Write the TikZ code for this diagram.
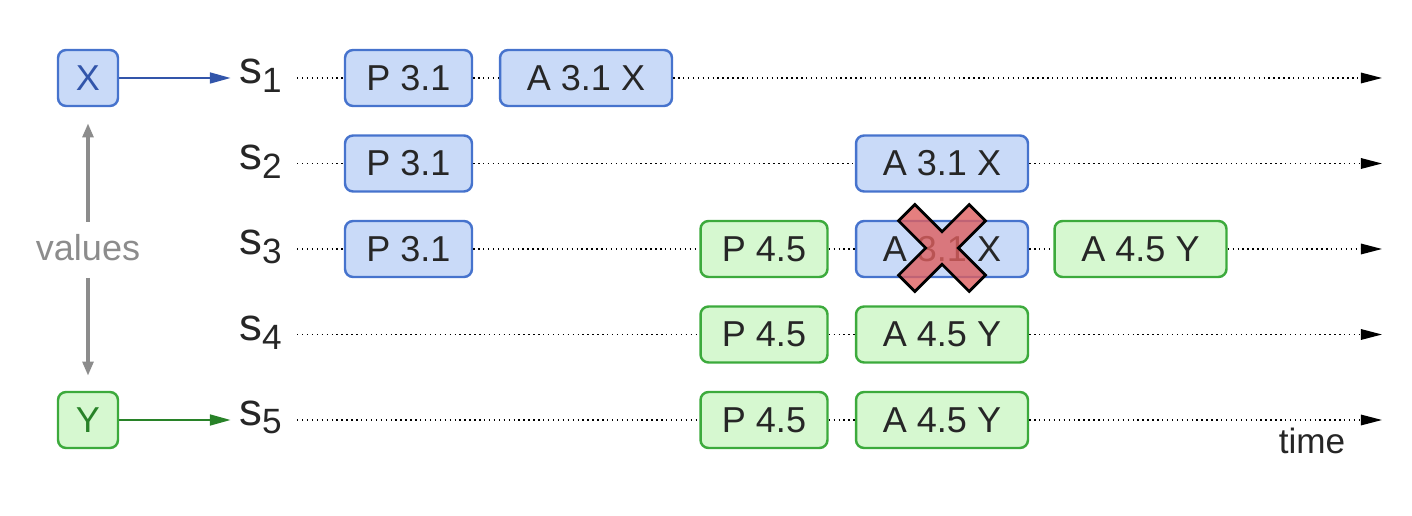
\documentclass[tikz,border=0pt]{standalone}
\usepackage{fontspec}
\setmainfont{Liberation Sans}
\usetikzlibrary{arrows.meta}
\definecolor{bfill}{RGB}{201,218,248}
\definecolor{bdraw}{RGB}{70,115,205}
\definecolor{gfill}{RGB}{214,248,208}
\definecolor{gdraw}{RGB}{60,170,60}
\definecolor{crossred}{RGB}{222,95,95}
\definecolor{valgray}{RGB}{140,140,140}
\definecolor{xarrow}{RGB}{50,85,170}
\definecolor{yarrow}{RGB}{40,130,40}
\begin{document}
\begin{tikzpicture}[x=0.02cm,y=-0.02cm,
  box/.style={rounded corners=0.16cm, line width=1.4pt, minimum height=1.12cm, inner sep=0pt,
    font=\fontsize{20.5}{24}\selectfont, text=black!85},
  bluebox/.style={box, draw=bdraw, fill=bfill},
  greenbox/.style={box, draw=gdraw, fill=gfill},
  pbox/.style={minimum width=2.54cm},
  abox/.style={minimum width=3.44cm},
  vbox/.style={minimum width=1.2cm},
  slabel/.style={anchor=base west, inner sep=0pt, font=\fontsize{26}{30}\selectfont, text=black!85},
  tl/.style={dotted, line width=0.8pt, black},
  tla/.style={tl, -{Triangle[length=12pt,width=6pt]}},
  garrow/.style={line width=2.1pt, valgray, -{Triangle[length=8pt,width=6pt]}},
  varrow/.style={line width=1.7pt, -{Triangle[length=12pt,width=6pt]}, shorten >=0.16cm},
]
\useasboundingbox (0,0) rectangle (1412,516);

\newcommand{\slab}[1]{s\raisebox{-5pt}{\fontsize{20}{22}\selectfont #1}}

% value boxes
\node[bluebox, vbox, text=xarrow] (X) at (88,78) {X};
\node[greenbox, vbox, text=yarrow] (Y) at (88,420) {Y};
\node[inner sep=0pt, anchor=base, text=valgray, font=\fontsize{20.5}{24}\selectfont] (values) at (88,261) {values};
\coordinate (va) at (88,222);
\coordinate (vb) at (88,278);
\draw[garrow, shorten >=0.32cm] (va) -- (X.south);
\draw[garrow, shorten >=0.3cm] (vb) -- (Y.north);

% labels
\node[slabel] (s1) at (239,84) {\slab{1}};
\node[slabel] (s2) at (239,169.5) {\slab{2}};
\node[slabel] (s3) at (239,255) {\slab{3}};
\node[slabel] (s4) at (239,340.5) {\slab{4}};
\node[slabel] (s5) at (239,425) {\slab{5}};

% row 1
\node[bluebox, pbox] (p1) at (408.5,78) {P 3.1};
\node[bluebox, abox] (a1) at (586,78) {A 3.1 X};
% row 2
\node[bluebox, pbox] (p2) at (408.5,163.5) {P 3.1};
\node[bluebox, abox] (a2) at (942,163.5) {A 3.1 X};
% row 3
\node[bluebox, pbox] (p3) at (408.5,249) {P 3.1};
\node[greenbox, pbox] (q3) at (764,249) {P 4.5};
\node[bluebox, abox] (a3) at (942,249) {A 3.1 X};
\node[greenbox, abox] (b3) at (1140.5,249) {A 4.5 Y};
% row 4
\node[greenbox, pbox] (q4) at (764,334.5) {P 4.5};
\node[greenbox, abox] (b4) at (942,334.5) {A 4.5 Y};
% row 5
\node[greenbox, pbox] (q5) at (764,420) {P 4.5};
\node[greenbox, abox] (b5) at (942,420) {A 4.5 Y};

\coordinate (e1) at (1382,78);
\coordinate (e2) at (1382,163.5);
\coordinate (e3) at (1382,249);
\coordinate (e4) at (1382,334.5);
\coordinate (e5) at (1382,420);

% value arrows
\draw[varrow, xarrow] (X.east) -- (X.east -| s1.west);
\draw[varrow, yarrow] (Y.east) -- (Y.east -| s5.west);

% time lines
\draw[tl, shorten <=0.3cm] (s1.east |- p1.west) -- (p1.west);
\draw[tl] (p1.east) -- (a1.west);
\draw[tla] (a1.east) -- (e1);

\draw[tl, shorten <=0.3cm] (s2.east |- p2.west) -- (p2.west);
\draw[tl] (p2.east) -- (a2.west);
\draw[tla] (a2.east) -- (e2);

\draw[tl, shorten <=0.3cm] (s3.east |- p3.west) -- (p3.west);
\draw[tl] (p3.east) -- (q3.west);
\draw[tl] (q3.east) -- (a3.west);
\draw[tl] (a3.east) -- (b3.west);
\draw[tla] (b3.east) -- (e3);

\draw[tl, shorten <=0.3cm] (s4.east |- q4.west) -- (q4.west);
\draw[tl] (q4.east) -- (b4.west);
\draw[tla] (b4.east) -- (e4);

\draw[tl, shorten <=0.3cm] (s5.east |- q5.west) -- (q5.west);
\draw[tl] (q5.east) -- (b5.west);
\draw[tla] (b5.east) -- (e5);

\node[inner sep=0pt, anchor=base, font=\fontsize{20}{24}\selectfont, text=black!85] (time) at (1312,453) {time};

% red cross over a3
\begin{scope}[shift={(942,248)}, rotate=45]
\draw[black, line width=1.6pt, fill=crossred, fill opacity=0.8, line join=miter]
  (50,11.5) -- (11.5,11.5) -- (11.5,50) -- (-11.5,50) -- (-11.5,11.5) -- (-50,11.5) -- (-50,-11.5)
  -- (-11.5,-11.5) -- (-11.5,-50) -- (11.5,-50) -- (11.5,-11.5) -- (50,-11.5) -- cycle;
\end{scope}
\end{tikzpicture}
\end{document}
